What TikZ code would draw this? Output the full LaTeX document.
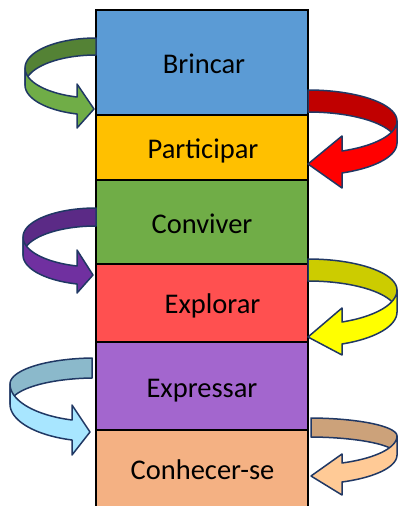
\documentclass[tikz,border=0pt]{standalone}
\usepackage{fontspec}
\setmainfont{Carlito}
\definecolor{cBlue}{HTML}{5B9BD5}
\definecolor{cGold}{HTML}{FFC000}
\definecolor{cGreen}{HTML}{70AD47}
\definecolor{cCoral}{HTML}{FF5050}
\definecolor{cViolet}{HTML}{A366CE}
\definecolor{cPeach}{HTML}{F4B183}
\definecolor{aLine}{HTML}{203864}
\definecolor{gBack}{HTML}{548235}
\definecolor{gFront}{HTML}{70AD47}
\definecolor{pBack}{HTML}{5B2A86}
\definecolor{pFront}{HTML}{7030A0}
\definecolor{bBack}{HTML}{8BB9CB}
\definecolor{bFront}{HTML}{A8E6FF}
\definecolor{rBack}{HTML}{C00000}
\definecolor{rFront}{HTML}{FF0000}
\definecolor{yBack}{HTML}{CCCC00}
\definecolor{yFront}{HTML}{FFFF00}
\definecolor{tBack}{HTML}{CCA27A}
\definecolor{tFront}{HTML}{FFCA96}
\pgfkeys{/carr/.is family,
  /carr/W/.store in=\cW, /carr/cy/.store in=\cCy, /carr/h/.store in=\cH,
  /carr/hx/.store in=\cHx, /carr/ft/.store in=\cFt, /carr/bu/.store in=\cBu,
  /carr/bl/.store in=\cBl, /carr/tx/.store in=\cTx, /carr/ty/.store in=\cTy,
  /carr/xs/.store in=\cXs, /carr/back/.store in=\cBack, /carr/front/.store in=\cFront}
\newcommand\curvarr[2]{%
  \pgfkeys{/carr, xs=0, tx=0, #2}%
  \pgfmathsetmacro\cTa{acos(\cXs/\cW)}%
  \pgfmathsetmacro\cBa{\cCy/sin(\cTa)}%
  \pgfmathsetmacro\cTb{acos(\cHx/\cW)}%
  \pgfmathsetmacro\cBb{(\cFt-\cCy)/sin(\cTb)}%
  \begin{scope}[#1]
    \filldraw[arrline, fill=\cBack]
      plot[domain=\cTa:0, variable=\q, samples=30] ({\cW*cos(\q)},{\cCy-\cBa*sin(\q)})
      -- plot[domain=0:\cTa, variable=\q, samples=30] ({\cW*cos(\q)},{\cCy+\cH-\cBa*sin(\q)})
      -- cycle;
    \filldraw[arrline, fill=\cFront]
      plot[domain=0:\cTb, variable=\q, samples=30] ({\cW*cos(\q)},{\cCy+\cBb*sin(\q)})
      -- (\cHx,\cBu) -- (\cTx,\cTy) -- (\cHx,\cBl)
      -- plot[domain=\cTb:0, variable=\q, samples=30] ({\cW*cos(\q)},{\cCy+\cH+\cBb*sin(\q)})
      -- cycle;
  \end{scope}}
\tikzset{
  rowbox/.style={draw=black, line width=2.5pt, minimum width=212pt, inner sep=0pt, outer sep=0pt},
  lbl/.style={font=\fontsize{28.5}{34}\selectfont, inner sep=0pt, anchor=base},
  arrline/.style={draw=aLine, line width=1.5pt, line join=round}
}
\begin{document}
\begin{tikzpicture}[x=1pt, y=-1pt]
\useasboundingbox (0,0) rectangle (400,506);
% column rows
\node[rowbox, fill=cBlue,   minimum height=105pt] (r1) at (202,62.5)  {};
\node[rowbox, fill=cGold,   minimum height=65pt]  (r2) at (202,147.5) {};
\node[rowbox, fill=cGreen,  minimum height=84pt]  (r3) at (202,222)   {};
\node[rowbox, fill=cCoral,  minimum height=78pt]  (r4) at (202,303)   {};
\node[rowbox, fill=cViolet, minimum height=88pt]  (r5) at (202,386)   {};
\node[rowbox, fill=cPeach,  minimum height=78pt]  (r6) at (202,469)   {};
% labels
\node[lbl] (t1) at (204,73)  {Brincar};
\node[lbl] (t2) at (203,158) {Participar};
\node[lbl] (t3) at (202,233) {Conviver};
\node[lbl] (t4) at (212.5,313) {Explorar};
\node[lbl] (t5) at (202,397) {Expressar};
\node[lbl] (t6) at (202.5,479) {Conhecer-se};
% left arrows
\curvarr{shift={(96,38)}, xscale=-1}{W=71, cy=30, h=17, hx=19, ft=59, bu=46, bl=90, tx=2, ty=71, back=gBack, front=gFront}
\curvarr{shift={(96,208)}, xscale=-1}{W=73, cy=29, h=18, hx=19, ft=58, bu=42, bl=85, tx=3, ty=67, back=pBack, front=pFront}
\curvarr{shift={(96,358)}, xscale=-1}{W=86, cy=26, h=20, hx=24, ft=62, bu=47, bl=97, tx=6, ty=74, xs=4, back=bBack, front=bFront}
% right arrows
\curvarr{shift={(308,90)}}{W=89, cy=31, h=22, hx=34, ft=61, bu=46, bl=98, tx=0, ty=74, back=rBack, front=rFront}
\curvarr{shift={(308,259)}}{W=89, cy=31, h=22, hx=34, ft=63, bu=49, bl=96, tx=0, ty=78, back=yBack, front=yFront}
\curvarr{shift={(308,418)}}{W=89, cy=18, h=19, hx=34, ft=45, bu=36, bl=77, tx=3, ty=58, xs=3, back=tBack, front=tFront}
\end{tikzpicture}
\end{document}
